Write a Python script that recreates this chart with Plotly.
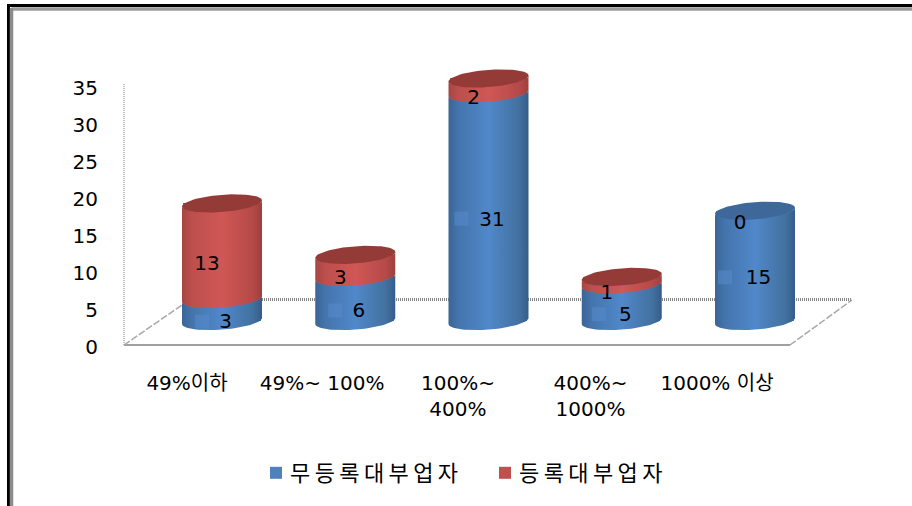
import math
import plotly.graph_objects as go

categories = ["49%이하", "49%~ 100%", "100%~<br>400%", "400%~<br>1000%", "1000% 이상"]
series_names = ["무등록대부업자", "등록대부업자"]
unregistered = [3, 6, 31, 5, 15]
registered = [13, 3, 2, 1, 0]
y_ticks = [0, 5, 10, 15, 20, 25, 30, 35]

# page geometry (pixels)
W, H = 912, 506
L, R, T, B = 124, 852, 50, 350
PX_W, PX_H = R - L, B - T
AX_ZERO = 346.5; AX_PX = 7.4          # printed axis scale
CYL_ZERO = 321; CYL_PX = 7.35         # scale of the cylinders (receding plane)
CYL_X0 = 222; CYL_DX = 133.25
LAB_X0 = 187; LAB_DX = 132.5
LAB_NUDGE = [0, 0.02, 0.045, 0.045, 0]  # small shift of the category labels, in category units
A, Bb, TILT = 40.0, 8.6, 3.0          # ellipse half axes, perspective tilt

BLUE_GRAD = [[0, "#3A6596"], [0.12, "#4474AC"], [0.5, "#5088CA"], [0.88, "#43719F"], [1, "#345C8C"]]
RED_GRAD = [[0, "#A54643"], [0.12, "#BC4F4C"], [0.5, "#D05755"], [0.88, "#B54A48"], [1, "#9C403E"]]
BLUE_CAP, RED_CAP = "#3D6899", "#943B38"
BLUE, RED = "#4F81BD", "#C0504D"
FONT = "DejaVu Sans, Noto Sans CJK KR"
BLUE_KEY_DX = [-20, -20, -27, -23, -30]


def px(x): return (x - L) / PX_W
def py(y): return (B - y) / PX_H


def arc(cx_i, val, start, stop, n=40):
    xs, ys = [], []
    for k in range(n + 1):
        t = start + (stop - start) * k / n
        xs.append(cx_i + A * math.cos(t) / CYL_DX)
        ys.append(val + (Bb * math.sin(t) + TILT * math.cos(t)) / CYL_PX)
    return xs, ys


def body(i, lo, hi, grad):
    x1, y1 = arc(i, lo, math.pi, 2 * math.pi)      # front of the lower rim, left to right
    x2, y2 = arc(i, hi, 2 * math.pi, math.pi)      # front of the upper rim, right to left
    return go.Scatter(x=x1 + x2 + x1[:1], y=y1 + y2 + y1[:1], xaxis="x2", yaxis="y2",
                      mode="lines", line=dict(width=0), fill="toself", showlegend=False,
                      fillgradient=dict(type="horizontal", colorscale=grad), hoverinfo="skip")


def cap(i, val, color):
    xs, ys = arc(i, val, 0, 2 * math.pi, 80)
    return go.Scatter(x=xs, y=ys, xaxis="x2", yaxis="y2", mode="lines", line=dict(width=0),
                      fill="toself", fillcolor=color, showlegend=False, hoverinfo="skip")


fig = go.Figure()
idx = list(range(len(categories)))
fig.add_trace(go.Scatter(x=idx, y=[None] * len(idx), mode="markers", showlegend=False, hoverinfo="skip"))

for name, vals, col in [(series_names[0], unregistered, BLUE), (series_names[1], registered, RED)]:
    fig.add_trace(go.Bar(x=idx, y=vals, name=name, width=0.58, marker=dict(color=col, line=dict(width=0)),
                         xaxis="x2", yaxis="y2", hoverinfo="skip"))

for i in idx:
    a, b = unregistered[i], registered[i]
    fig.add_trace(body(i, 0, a, BLUE_GRAD))
    if b > 0:
        fig.add_trace(body(i, a, a + b, RED_GRAD))
    fig.add_trace(cap(i, a + b, RED_CAP if b > 0 else BLUE_CAP))

# the pale legend-key squares that sit beside the blue labels
off = 13.5 / CYL_PX
fig.add_trace(go.Scatter(
    x=[i + BLUE_KEY_DX[i] / CYL_DX for i in idx],
    y=[unregistered[i] / 2 - off + 2 / CYL_PX for i in idx],
    xaxis="x2", yaxis="y2", mode="markers", showlegend=False, hoverinfo="skip",
    marker=dict(symbol="square", size=14, color="#5589CA", opacity=0.6, line=dict(width=0))))

lab_x, lab_y, lab_t = [], [], []
for i in idx:
    a, b = unregistered[i], registered[i]
    lab_x += [i + 3.5 / CYL_DX, i - 15 / CYL_DX]
    lab_y += [a / 2 - off, a + b / 2 - off]
    lab_t += [str(a), str(b)]
fig.add_trace(go.Scatter(x=lab_x, y=lab_y, text=lab_t, xaxis="x2", yaxis="y2", mode="text",
                         textposition="middle center", showlegend=False, hoverinfo="skip",
                         textfont=dict(family=FONT, size=20, color="#000000")))

GRID = "#999999"
def seg(x0, y0, x1, y1, color=GRID, width=1.5, dash="solid", layer="below"):
    return dict(type="line", xref="paper", yref="paper", x0=px(x0), y0=py(y0), x1=px(x1), y1=py(y1),
                line=dict(color=color, width=width, dash=dash), layer=layer)


shapes = [
    seg(124, 84, 124, 345, width=1, dash="1px,1px", color="#808080"),
    seg(124, 345, 790, 345, color="#A0A0A0", width=2),
    seg(124, 345, 182, 305, dash="7px,2px", color="#A8A8A8", width=1.5),
    seg(790, 345, 852, 300, dash="7px,2px", color="#A8A8A8", width=1.5),
    seg(182, 299.5, 852, 299.5, dash="1px,1px", color="#888888", width=3),
    # picture frame
    seg(7, 5.5, 912, 5.5, color="#000000", width=3, layer="above"),
    seg(8.5, 5, 8.5, 506, color="#000000", width=3, layer="above"),
    seg(11.5, 9, 912, 9, color="#9A9A9A", width=3.5, layer="above"),
    seg(11.5, 8, 11.5, 506, color="#8C8C8C", width=3.5, layer="above"),
]

fig.update_layout(
    width=W, height=H, margin=dict(l=L, r=W - R, t=T, b=H - B, pad=0),
    paper_bgcolor="#FFFFFF", plot_bgcolor="rgba(0,0,0,0)", barmode="stack", shapes=shapes,
    xaxis=dict(range=[(L - LAB_X0) / LAB_DX, (R - LAB_X0) / LAB_DX], tickmode="array",
               tickvals=[i + LAB_NUDGE[i] for i in idx],
               ticktext=categories, ticks="outside", ticklen=15, tickcolor="rgba(0,0,0,0)",
               showgrid=False, zeroline=False, showline=False, tickangle=0,
               tickfont=dict(family=FONT, size=20, color="#000000")),
    yaxis=dict(range=[(AX_ZERO - B) / AX_PX, (AX_ZERO - T) / AX_PX], tickmode="array", tickvals=y_ticks,
               ticks="outside", ticklen=21, tickcolor="rgba(0,0,0,0)", showgrid=False, zeroline=False,
               showline=False, tickfont=dict(family=FONT, size=20, color="#000000")),
    xaxis2=dict(range=[(L - CYL_X0) / CYL_DX, (R - CYL_X0) / CYL_DX], overlaying="x", visible=False),
    yaxis2=dict(range=[(CYL_ZERO - B) / CYL_PX, (CYL_ZERO - T) / CYL_PX], overlaying="y", visible=False),
    legend=dict(orientation="h", traceorder="normal", x=px(256), xanchor="left", y=py(473), yanchor="middle",
                entrywidth=184, entrywidthmode="pixels", bgcolor="rgba(0,0,0,0)",
                font=dict(family="Noto Sans CJK KR", size=22, color="#000000")),
)

css = (".legendtext{letter-spacing:4.4px;transform:translateX(-6px);}")
post = ("document.body.style.margin='0';document.body.style.overflow='hidden';"
        "var s=document.createElement('style');s.textContent='" + css + "';document.head.appendChild(s);")
fig.write_html("out.html", post_script=post, config={"displayModeBar": False})
